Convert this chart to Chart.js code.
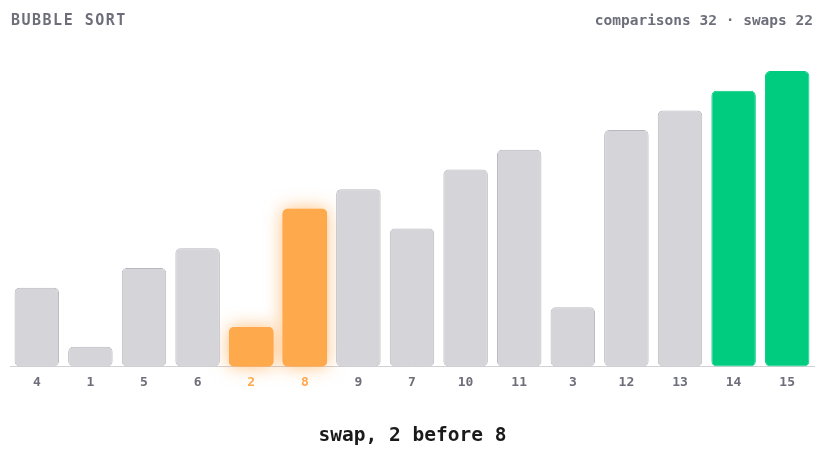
<!DOCTYPE html>
<html lang="en">
<head>
    <meta charset="UTF-8">
    <title>Bubble Sort</title>
    <style>
        body { margin: 0; background: #fff; font-family: "DejaVu Sans Mono", "Liberation Mono", monospace; }
        #wrap { position: relative; width: 825px; height: 451px; }
        #title { position: absolute; left: 11px; top: 11px; font-size: 15px; line-height: 18px; font-weight: bold; color: #6e6e7a; letter-spacing: 1.5px; }
        #stats { position: absolute; right: 12px; top: 11px; font-size: 14.5px; line-height: 18px; font-weight: bold; color: #6e6e7a; }
        #caption { position: absolute; left: 0; width: 825px; top: 423px; line-height: 24px; text-align: center; font-size: 19.5px; font-weight: bold; color: #1a1a1a; }
        canvas { position: absolute; left: 0; top: 0; }
    </style>
</head>
<body>
<div id="wrap">
    <canvas id="sortChart" width="825" height="451"></canvas>
    <div id="title">BUBBLE SORT</div>
    <div id="stats">comparisons 32 · swaps 22</div>
    <div id="caption">swap, 2 before 8</div>
</div>

<script src="https://cdn.jsdelivr.net/npm/chart.js"></script>
<script>
    // current array state
    const values = [4, 1, 5, 6, 2, 8, 9, 7, 10, 11, 3, 12, 13, 14, 15];
    const labels = values.map(String);
    // bar states: 'idle', 'swap', 'sorted'
    const states = ['idle', 'idle', 'idle', 'idle', 'swap', 'swap', 'idle', 'idle', 'idle', 'idle', 'idle', 'idle', 'idle', 'sorted', 'sorted'];

    const fill = { idle: '#d5d4d9', swap: '#ffa94d', sorted: '#00cc80' };
    const border = { idle: '#b9b8be', swap: '#ffa94d', sorted: '#00cc80' };
    const tickColor = { idle: '#6e6e7a', swap: '#ffa94d', sorted: '#6e6e7a' };

    // soft orange glow behind the bars being swapped
    const glowPlugin = {
        id: 'glow',
        beforeDatasetsDraw(chart) {
            const ctx = chart.ctx;
            const meta = chart.getDatasetMeta(0);
            ctx.save();
            ctx.shadowColor = 'rgba(255, 150, 40, 0.6)';
            ctx.shadowBlur = 18;
            ctx.fillStyle = '#ffa94d';
            states.forEach((s, i) => {
                if (s !== 'swap') return;
                const { x, y, base, width } = meta.data[i].getProps(['x', 'y', 'base', 'width']);
                ctx.beginPath();
                ctx.roundRect(x - width / 2, y, width, base - y, 5);
                ctx.fill();
            });
            ctx.restore();
        }
    };

    new Chart(document.getElementById('sortChart'), {
        type: 'bar',
        data: {
            labels: labels,
            datasets: [{
                data: values,
                backgroundColor: states.map(s => fill[s]),
                borderColor: states.map(s => border[s]),
                borderWidth: 1,
                borderRadius: 5,
                borderSkipped: false,
                categoryPercentage: 1,
                barPercentage: 0.83
            }]
        },
        options: {
            responsive: false,
            animation: false,
            layout: { padding: { top: 71, left: 10, right: 11, bottom: 53 } },
            plugins: { legend: { display: false }, tooltip: { enabled: false } },
            scales: {
                x: {
                    grid: { display: false, drawTicks: false },
                    border: { display: true, color: '#d0d0d5', width: 1 },
                    ticks: {
                        padding: 8,
                        color: ctx => tickColor[states[ctx.index]],
                        font: { family: '"DejaVu Sans Mono", monospace', size: 13, weight: 'bold' }
                    }
                },
                y: {
                    display: false,
                    min: 0,
                    max: 15
                }
            }
        },
        plugins: [glowPlugin]
    });
</script>
</body>
</html>
